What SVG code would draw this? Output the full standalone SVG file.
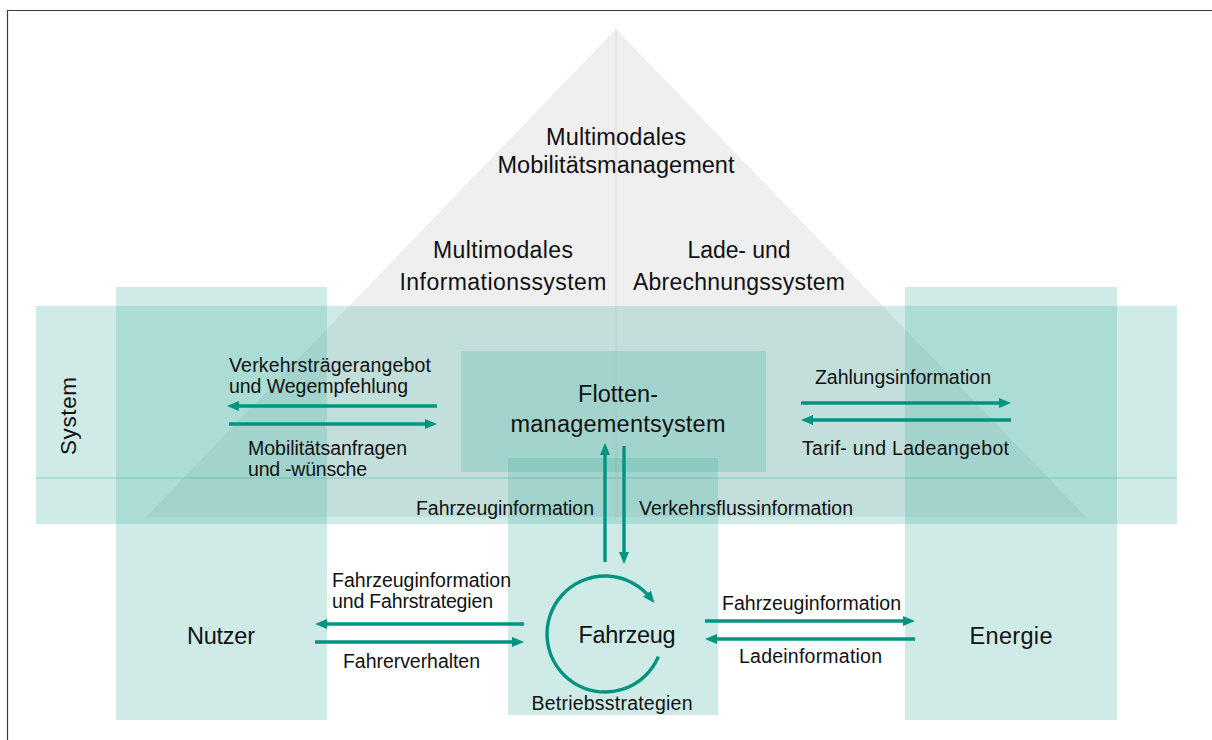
<svg xmlns="http://www.w3.org/2000/svg" width="1212" height="740" viewBox="0 0 1212 740">
<style>
  .band { fill: #40b0a0; fill-opacity: 0.25; }
  .t { font-family: "Liberation Sans", Arial, sans-serif; fill: #111; }
  .big { font-size: 23.5px; }
  .mid { font-size: 23px; }
  .sm { font-size: 19.5px; }
  .arr { stroke: #009480; stroke-width: 3.4; fill: none; marker-end: url(#ah); }
</style>
<defs>
  <marker id="ah" markerUnits="userSpaceOnUse" markerWidth="13" markerHeight="11" refX="6" refY="5" orient="auto">
    <path d="M0,0 L12,5 L0,10 Z" fill="#009480"/>
  </marker>
</defs>
<rect x="0" y="0" width="1212" height="740" fill="#fff"/>
<path d="M7.5,740 V10.5 H1212" fill="none" stroke="#3a3a3a" stroke-width="1.2"/>

<g id="mobilitaetsmanagement">
  <polygon points="616,29 146,517 1086,517" fill="#efefef"/>
  <line x1="616" y1="29" x2="616" y2="517" stroke="#dcdcdc" stroke-width="1"/>
  <text class="t big" x="616" y="145" text-anchor="middle" textLength="140" lengthAdjust="spacing">Multimodales</text>
  <text class="t big" x="616" y="173" text-anchor="middle" textLength="237" lengthAdjust="spacing">Mobilitätsmanagement</text>
</g>
<g id="informationssystem">
  <text class="t mid" x="503" y="258" text-anchor="middle" textLength="140" lengthAdjust="spacing">Multimodales</text>
  <text class="t mid" x="503" y="290" text-anchor="middle" textLength="207" lengthAdjust="spacing">Informationssystem</text>
</g>
<g id="abrechnungssystem">
  <text class="t mid" x="739" y="258" text-anchor="middle" textLength="103" lengthAdjust="spacing">Lade- und</text>
  <text class="t mid" x="739" y="290" text-anchor="middle" textLength="212" lengthAdjust="spacing">Abrechnungssystem</text>
</g>

<g id="system">
  <rect class="band" x="36" y="306" width="1141" height="218"/>
  <line x1="36" y1="478" x2="1177" y2="478" stroke="#5fb8aa" stroke-width="1" stroke-opacity="0.6"/>
  <text class="t" font-size="22.5" transform="translate(76,416) rotate(-90)" text-anchor="middle" textLength="78" lengthAdjust="spacing">System</text>
</g>
<g id="nutzer">
  <rect class="band" x="116" y="287" width="211" height="433"/>
  <text class="t big" x="221" y="644" text-anchor="middle" textLength="68" lengthAdjust="spacing">Nutzer</text>
</g>
<g id="energie">
  <rect class="band" x="905" y="287" width="212" height="433"/>
  <text class="t big" x="1011" y="644" text-anchor="middle" textLength="83" lengthAdjust="spacing">Energie</text>
</g>
<g id="fahrzeug">
  <rect class="band" x="508" y="458" width="210" height="257"/>
  <text class="t big" x="627" y="643" text-anchor="middle" textLength="97" lengthAdjust="spacing">Fahrzeug</text>
  <text class="t sm" x="612" y="710" text-anchor="middle" textLength="161" lengthAdjust="spacing">Betriebsstrategien</text>
</g>
<g id="flottenmanagementsystem">
  <rect class="band" x="461" y="351" width="305" height="121"/>
  <text class="t big" x="618" y="402" text-anchor="middle" textLength="80" lengthAdjust="spacing">Flotten-</text>
  <text class="t big" x="618" y="432" text-anchor="middle" textLength="215" lengthAdjust="spacing">managementsystem</text>
</g>

<g id="connectors">
  <line class="arr" x1="437" y1="406" x2="233" y2="406"/>
  <line class="arr" x1="229" y1="424" x2="431" y2="424"/>
  <line class="arr" x1="801" y1="403" x2="1005" y2="403"/>
  <line class="arr" x1="1011" y1="420" x2="807" y2="420"/>
  <line class="arr" x1="605" y1="562" x2="605" y2="449"/>
  <line class="arr" x1="624" y1="446" x2="624" y2="558"/>
  <line class="arr" x1="524" y1="624" x2="321" y2="624"/>
  <line class="arr" x1="315" y1="642" x2="518" y2="642"/>
  <line class="arr" x1="705" y1="621" x2="909" y2="621"/>
  <line class="arr" x1="915" y1="639" x2="711" y2="639"/>
  <path class="arr" d="M658.4,656.7 A58,58 0 1 1 650.7,598.3"/>

  <text class="t sm" x="229" y="372" textLength="202" lengthAdjust="spacing">Verkehrsträgerangebot</text>
  <text class="t sm" x="229" y="393" textLength="179" lengthAdjust="spacing">und Wegempfehlung</text>
  <text class="t sm" x="248" y="455" textLength="159" lengthAdjust="spacing">Mobilitätsanfragen</text>
  <text class="t sm" x="248" y="476" textLength="119" lengthAdjust="spacing">und -wünsche</text>
  <text class="t sm" x="815" y="384" textLength="176" lengthAdjust="spacing">Zahlungsinformation</text>
  <text class="t sm" x="802" y="455" textLength="207" lengthAdjust="spacing">Tarif- und Ladeangebot</text>
  <text class="t sm" x="416" y="515" textLength="178" lengthAdjust="spacing">Fahrzeuginformation</text>
  <text class="t sm" x="639" y="515" textLength="214" lengthAdjust="spacing">Verkehrsflussinformation</text>
  <text class="t sm" x="332" y="587" textLength="179" lengthAdjust="spacing">Fahrzeuginformation</text>
  <text class="t sm" x="332" y="608" textLength="161" lengthAdjust="spacing">und Fahrstrategien</text>
  <text class="t sm" x="343" y="668" textLength="137" lengthAdjust="spacing">Fahrerverhalten</text>
  <text class="t sm" x="722" y="610" textLength="179" lengthAdjust="spacing">Fahrzeuginformation</text>
  <text class="t sm" x="739" y="663" textLength="143" lengthAdjust="spacing">Ladeinformation</text>
</g>
</svg>
